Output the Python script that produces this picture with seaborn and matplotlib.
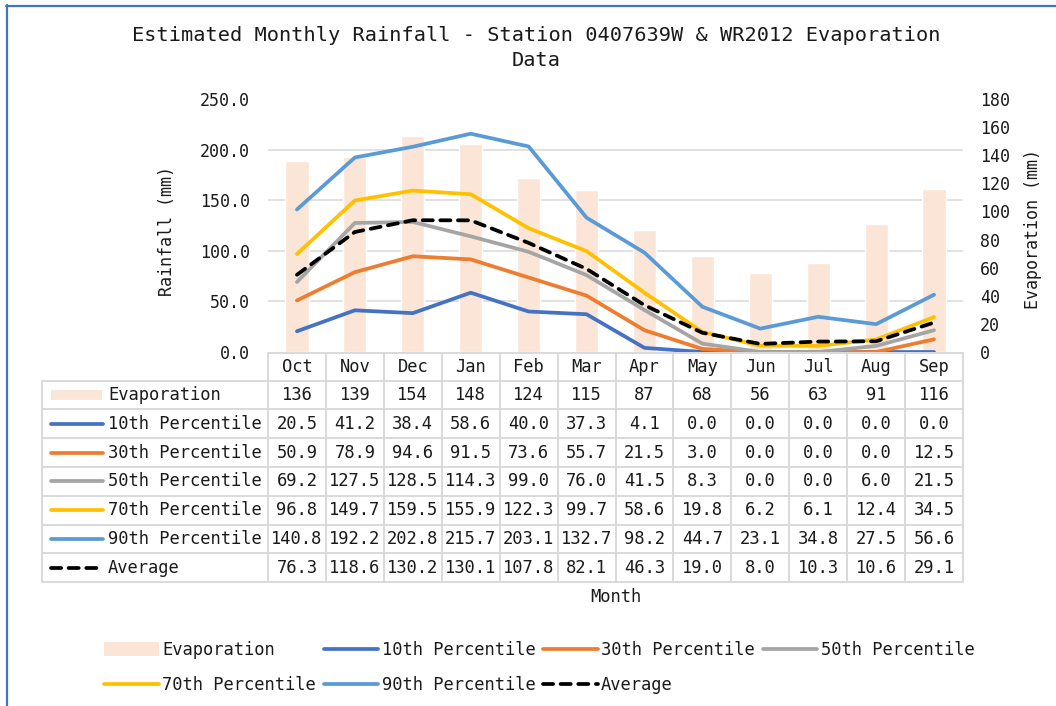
import numpy as np
import matplotlib
matplotlib.use("Agg")
import matplotlib.pyplot as plt
from matplotlib.lines import Line2D
from matplotlib.ticker import FormatStrFormatter
import seaborn as sns

# ---------------- data ----------------
months = ["Oct", "Nov", "Dec", "Jan", "Feb", "Mar", "Apr", "May", "Jun", "Jul", "Aug", "Sep"]
evaporation = [136, 139, 154, 148, 124, 115, 87, 68, 56, 63, 91, 116]
p10 = [20.5, 41.2, 38.4, 58.6, 40.0, 37.3, 4.1, 0.0, 0.0, 0.0, 0.0, 0.0]
p30 = [50.9, 78.9, 94.6, 91.5, 73.6, 55.7, 21.5, 3.0, 0.0, 0.0, 0.0, 12.5]
p50 = [69.2, 127.5, 128.5, 114.3, 99.0, 76.0, 41.5, 8.3, 0.0, 0.0, 6.0, 21.5]
p70 = [96.8, 149.7, 159.5, 155.9, 122.3, 99.7, 58.6, 19.8, 6.2, 6.1, 12.4, 34.5]
p90 = [140.8, 192.2, 202.8, 215.7, 203.1, 132.7, 98.2, 44.7, 23.1, 34.8, 27.5, 56.6]
average = [76.3, 118.6, 130.2, 130.1, 107.8, 82.1, 46.3, 19.0, 8.0, 10.3, 10.6, 29.1]
rain_ticks = [0, 50, 100, 150, 200, 250]
evap_ticks = [0, 20, 40, 60, 80, 100, 120, 140, 160, 180]
line_names = ["10th Percentile", "30th Percentile", "50th Percentile",
              "70th Percentile", "90th Percentile", "Average"]
line_values = [p10, p30, p50, p70, p90, average]
title = "Estimated Monthly Rainfall - Station 0407639W & WR2012 Evaporation\nData"

# ---------------- styles ----------------
EVAP_C = "#FBE5D6"
line_colors = ["#4472C4", "#ED7D31", "#A5A5A5", "#FFC000", "#5B9BD5", "#000000"]
DASH = (0, (2.7, 2.0))
line_styles = ["-", "-", "-", "-", "-", DASH]
GRID_C = "#D9D9D9"
TXT_C = "#1a1a1a"
LW = 2.7
FS = 12.3

sns.set_style("white")
plt.rcParams["font.family"] = ["DejaVu Sans Mono", "DejaVu Sans"]
plt.rcParams["text.color"] = TXT_C

W, H = 1056, 706
fig = plt.figure(figsize=(W / 100, H / 100), dpi=100)


def fx(px):
    return px / W


def fy(py):
    return 1 - py / H


# plot area (pixels)
PL, PR, PT, PB = 268, 963, 99, 352
ax_bar = fig.add_axes([fx(PL), fy(PB), (PR - PL) / W, (PB - PT) / H])
sns.barplot(x=months, y=evaporation, ax=ax_bar, color=EVAP_C, width=0.4,
            saturation=1, order=months, zorder=2)
ax_line = ax_bar.twinx()
for name, vals, c, ls in zip(line_names, line_values, line_colors, line_styles):
    sns.lineplot(x=months, y=vals, ax=ax_line, color=c, lw=LW, linestyle=ls,
                 sort=False, solid_capstyle="round", dash_capstyle="round",
                 zorder=3)

# right axis: evaporation
ax_bar.set_ylim(evap_ticks[0], evap_ticks[-1])
ax_bar.set_yticks(evap_ticks)
ax_bar.yaxis.tick_right()
ax_bar.yaxis.set_label_position("right")
ax_bar.set_yticks(np.array(rain_ticks) / rain_ticks[-1] * evap_ticks[-1], minor=True)
ax_bar.yaxis.grid(True, which="minor", color=GRID_C, lw=1.1)
ax_bar.yaxis.grid(False, which="major")
ax_bar.xaxis.grid(False)
ax_bar.set_axisbelow(True)
ax_bar.tick_params(axis="y", which="both", length=0, pad=12, labelsize=12,
                   labelcolor=TXT_C, labelright=True, labelleft=False)
ax_bar.set_ylabel("Evaporation (mm)", fontsize=12, color=TXT_C)
ax_bar.yaxis.set_label_coords(1.088, 0.485)

# left axis: rainfall
ax_line.set_ylim(rain_ticks[0], rain_ticks[-1])
ax_line.set_yticks(rain_ticks)
ax_line.yaxis.set_major_formatter(FormatStrFormatter("%.1f"))
ax_line.yaxis.tick_left()
ax_line.yaxis.set_label_position("left")
ax_line.tick_params(axis="y", length=0, pad=13, labelsize=12, labelcolor=TXT_C,
                    labelleft=True, labelright=False)
ax_line.set_ylabel("Rainfall (mm)", fontsize=12, color=TXT_C)
ax_line.yaxis.set_label_coords(-0.133, 0.48)

for a in (ax_bar, ax_line):
    a.set_xlim(-0.5, len(months) - 0.5)
    a.tick_params(axis="x", length=0, labelbottom=False)
    a.set_xlabel("")
    for s in a.spines.values():
        s.set_visible(False)
ax_line.grid(False)

# ---------------- title ----------------
fig.text(fx(536.5), fy(48), title, ha="center", va="center", fontsize=14.6,
         linespacing=1.45, color=TXT_C)

# ---------------- data table ----------------
n = len(months)
col_w = (PR - PL) / n
col_edges = [PL + i * col_w for i in range(n + 1)]
HDR_T, HDR_B = 353, 380.5
ROW_H = 28.8
TL = 42
row_edges = [HDR_B + i * ROW_H for i in range(8)]


def hline(x0, x1, y):
    fig.add_artist(Line2D([fx(x0), fx(x1)], [fy(y), fy(y)], transform=fig.transFigure,
                          color=GRID_C, lw=1.4))


def vline(x, y0, y1):
    fig.add_artist(Line2D([fx(x), fx(x)], [fy(y0), fy(y1)], transform=fig.transFigure,
                          color=GRID_C, lw=1.4))


hline(PL, PR, HDR_T)
for y in row_edges:
    hline(TL, PR, y)
vline(TL, row_edges[0], row_edges[-1])
for x in col_edges:
    vline(x, HDR_T, row_edges[-1])

for i, m in enumerate(months):
    fig.text(fx(col_edges[i] + col_w / 2), fy((HDR_T + HDR_B) / 2), m,
             ha="center", va="center", fontsize=FS)

table_names = ["Evaporation"] + line_names
table_vals = [[f"{v:d}" for v in evaporation]] + \
             [[f"{v:.1f}" for v in vals] for vals in line_values]
for r, (name, vals) in enumerate(zip(table_names, table_vals)):
    yc = (row_edges[r] + row_edges[r + 1]) / 2
    if r == 0:
        fig.add_artist(Line2D([fx(51), fx(102)], [fy(yc), fy(yc)], transform=fig.transFigure,
                              color=EVAP_C, lw=7, solid_capstyle="butt"))
    else:
        fig.add_artist(Line2D([fx(51), fx(103)], [fy(yc), fy(yc)], transform=fig.transFigure,
                              color=line_colors[r - 1], lw=LW, linestyle=line_styles[r - 1],
                              solid_capstyle="round", dash_capstyle="round"))
    fig.text(fx(108), fy(yc), name, ha="left", va="center", fontsize=FS)
    for i, v in enumerate(vals):
        fig.text(fx(col_edges[i] + col_w / 2), fy(yc), v, ha="center", va="center",
                 fontsize=FS)

fig.text(fx((PL + PR) / 2), fy(597), "Month", ha="center", va="center", fontsize=FS)

# ---------------- legend ----------------
h_evap = Line2D([], [], color=EVAP_C, lw=10, solid_capstyle="butt")
h_lines = [Line2D([], [], color=c, lw=LW, linestyle=ls, solid_capstyle="round",
                  dash_capstyle="round") for c, ls in zip(line_colors, line_styles)]
handles = [h_evap] + h_lines
labels = ["Evaporation"] + line_names
# Excel fills rows first; matplotlib fills columns first -> reorder
order = [0, 4, 1, 5, 2, 6, 3]
fig.legend([handles[i] for i in order], [labels[i] for i in order],
           loc="upper left", bbox_to_anchor=(fx(104), fy(641)), ncol=4,
           frameon=False, fontsize=FS, handlelength=3.2, handletextpad=0.2,
           columnspacing=0.45, labelspacing=0.98, borderpad=0, borderaxespad=0)

# ---------------- outer border ----------------
fig.add_artist(Line2D([fx(6), 1], [fy(5.8), fy(5.8)], transform=fig.transFigure,
                      color="#4472C4", lw=1.6))
fig.add_artist(Line2D([fx(6.8), fx(6.8)], [fy(5), 0], transform=fig.transFigure,
                      color="#4472C4", lw=1.6))

fig.savefig("out.png", dpi=100)
